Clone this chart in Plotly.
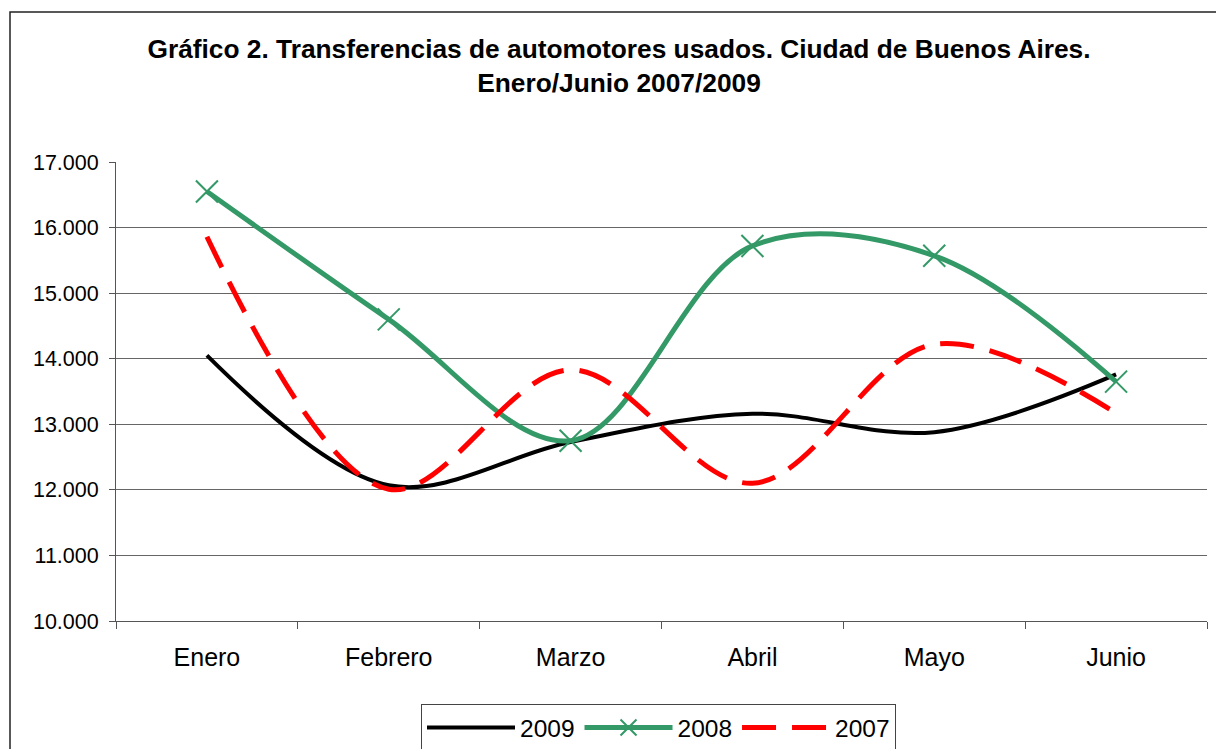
import plotly.graph_objects as go

meses = ["Enero", "Febrero", "Marzo", "Abril", "Mayo", "Junio"]
v2009 = [14050, 12070, 12730, 13160, 12880, 13760]
v2008 = [16550, 14600, 12750, 15720, 15570, 13650]
v2007 = [15860, 12010, 13830, 12100, 14220, 13170]
yticks = [10000, 11000, 12000, 13000, 14000, 15000, 16000, 17000]

W, H = 1216, 749
L, R, T, B = 116, 9, 162, 128
pw, ph = W - L - R, H - T - B

FONT = "Liberation Sans, Arial, sans-serif"

fig = go.Figure()
fig.add_trace(go.Scatter(
    x=meses, y=v2009, name="2009", mode="lines",
    line=dict(color="#000000", width=4, shape="spline", smoothing=1.0),
))
fig.add_trace(go.Scatter(
    x=meses, y=v2008, name="2008", mode="lines+markers",
    line=dict(color="#339966", width=5, shape="spline", smoothing=1.0),
    marker=dict(symbol="x-thin", size=22, color="#339966",
                line=dict(color="#339966", width=2)),
))
fig.add_trace(go.Scatter(
    x=meses, y=v2007, name="2007", mode="lines",
    line=dict(color="#ff0000", width=5, shape="spline", smoothing=1.0,
              dash="34px,16px"),
))

def px_to_paper_x(px):
    return (px - L) / pw

def px_to_paper_y(py):
    return (H - B - py) / ph

fig.update_layout(
    width=W, height=H,
    margin=dict(l=L, r=R, t=T, b=B, autoexpand=False),
    paper_bgcolor="white", plot_bgcolor="white",
    font=dict(family=FONT, color="#000000"),
    separators=",.",
    title=dict(
        text="<b>Gráfico 2. Transferencias de automotores usados. Ciudad de Buenos Aires.<br>Enero/Junio 2007/2009</b>",
        x=619 / W, xanchor="center", xref="container",
        y=1 - 57.5 / H, yanchor="middle", yref="container",
        font=dict(size=26.3, family=FONT, color="#000000"),
        automargin=False,
    ),
    xaxis=dict(
        type="category", range=[-0.5, 5.5], automargin=False,
        tickson="boundaries", ticks="outside", ticklen=7, tickcolor="#555",
        showline=True, linecolor="#555", linewidth=1,
        showgrid=False, tickfont=dict(size=25, family=FONT),
        ticklabelstandoff=14,
    ),
    yaxis=dict(
        range=[10000, 17000], tickvals=yticks, tickformat=",d",
        automargin=False,
        ticks="outside", ticklen=6, tickcolor="#555",
        showline=True, linecolor="#555", linewidth=1,
        showgrid=True, gridcolor="#666666", gridwidth=1,
        zeroline=False, tickfont=dict(size=21.5, family=FONT),
        ticklabelstandoff=6,
    ),
    legend=dict(
        orientation="h", x=px_to_paper_x(421), xanchor="left",
        y=px_to_paper_y(704), yanchor="top",
        bordercolor="#444", borderwidth=1, bgcolor="white",
        font=dict(size=24.5, family=FONT),
        itemwidth=88, tracegroupgap=0,
    ),
    shapes=[dict(
        type="rect", xref="paper", yref="paper",
        x0=px_to_paper_x(10), x1=px_to_paper_x(1240),
        y0=px_to_paper_y(780), y1=px_to_paper_y(12),
        line=dict(color="#222", width=1.5), fillcolor="rgba(0,0,0,0)",
        layer="below",
    )],
)

fig.write_html("out.html",
               config={"displayModeBar": False},
               post_script="document.body.style.margin='0';document.body.style.overflow='hidden';")
